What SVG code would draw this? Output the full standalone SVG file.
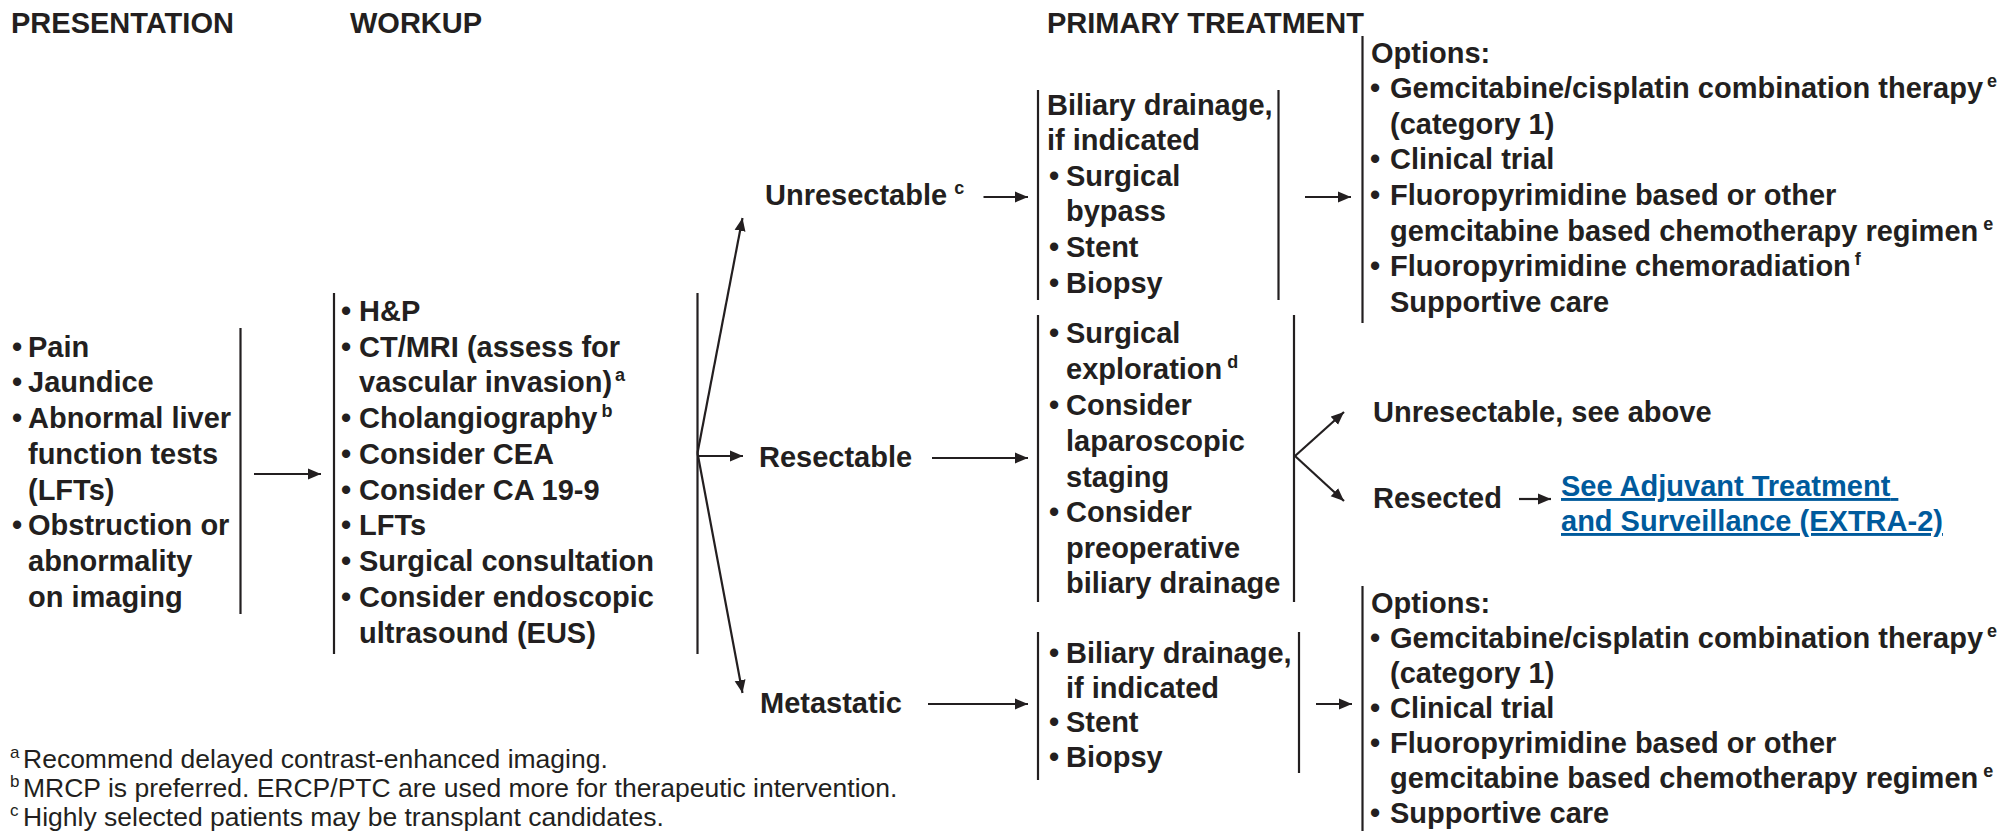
<svg xmlns="http://www.w3.org/2000/svg" width="2012" height="831" viewBox="0 0 2012 831">
<style>
text { font-family: "Liberation Sans", Arial, Helvetica, sans-serif; fill: #231f20; }
.t { font-weight: bold; font-size: 29px; }
.sup { font-size: 18px; }
.fn { font-weight: normal; font-size: 26.5px; }
.fsup { font-size: 17px; }
.bar { stroke: #231f20; stroke-width: 2.2; fill: none; }
.conn { stroke: #231f20; stroke-width: 2.2; fill: none; marker-end: url(#ah); }
.link { fill: #005a9c; text-decoration: underline; }
</style>
<defs>
<marker id="ah" markerUnits="userSpaceOnUse" markerWidth="14" markerHeight="12" refX="13" refY="6" orient="auto">
<path d="M0,0.5 L13,6 L0,11.5 z" fill="#231f20"/>
</marker>
</defs>
<rect width="2012" height="831" fill="#ffffff"/>

<g id="headers">
<text class="t" x="11" y="32.5">PRESENTATION</text>
<text class="t" x="350" y="32.5">WORKUP</text>
<text class="t" x="1047" y="32.5">PRIMARY TREATMENT</text>
</g>

<g id="presentation">
<line class="bar" x1="240.5" y1="328" x2="240.5" y2="614"/>
<text class="t">
<tspan x="12" y="356.5">•</tspan><tspan x="28" y="356.5">Pain</tspan>
<tspan x="12" y="392.3">•</tspan><tspan x="28" y="392.3">Jaundice</tspan>
<tspan x="12" y="428">•</tspan><tspan x="28" y="428">Abnormal liver</tspan>
<tspan x="28" y="463.8">function tests</tspan>
<tspan x="28" y="499.5">(LFTs)</tspan>
<tspan x="12" y="535.3">•</tspan><tspan x="28" y="535.3">Obstruction or</tspan>
<tspan x="28" y="571">abnormality</tspan>
<tspan x="28" y="606.8">on imaging</tspan>
</text>
</g>

<g id="workup">
<line class="bar" x1="334" y1="293" x2="334" y2="654"/>
<line class="bar" x1="697.5" y1="293" x2="697.5" y2="654"/>
<text class="t">
<tspan x="341" y="320.7">•</tspan><tspan x="359" y="320.7">H&amp;P</tspan>
<tspan x="341" y="356.5">•</tspan><tspan x="359" y="356.5">CT/MRI (assess for</tspan>
<tspan x="359" y="392.3">vascular invasion)</tspan><tspan class="sup" dx="3" dy="-11">a</tspan>
<tspan x="341" y="428">•</tspan><tspan x="359" y="428">Cholangiography</tspan><tspan class="sup" dx="4" dy="-11">b</tspan>
<tspan x="341" y="463.8">•</tspan><tspan x="359" y="463.8">Consider CEA</tspan>
<tspan x="341" y="499.5">•</tspan><tspan x="359" y="499.5">Consider CA 19-9</tspan>
<tspan x="341" y="535.3">•</tspan><tspan x="359" y="535.3">LFTs</tspan>
<tspan x="341" y="571">•</tspan><tspan x="359" y="571">Surgical consultation</tspan>
<tspan x="341" y="606.8">•</tspan><tspan x="359" y="606.8">Consider endoscopic</tspan>
<tspan x="359" y="642.5">ultrasound (EUS)</tspan>
</text>
</g>

<g id="unresectable">
<text class="t"><tspan x="765" y="205">Unresectable</tspan><tspan class="sup" dx="7" dy="-11">c</tspan></text>
</g>
<g id="resectable">
<text class="t" x="759" y="467">Resectable</text>
</g>
<g id="metastatic">
<text class="t" x="760" y="713">Metastatic</text>
</g>

<g id="unresectable-treatment">
<line class="bar" x1="1038" y1="90" x2="1038" y2="300"/>
<line class="bar" x1="1278.5" y1="90" x2="1278.5" y2="300"/>
<text class="t">
<tspan x="1047" y="114.5">Biliary drainage,</tspan>
<tspan x="1047" y="150">if indicated</tspan>
<tspan x="1049" y="185.7">•</tspan><tspan x="1066" y="185.7">Surgical</tspan>
<tspan x="1066" y="221.4">bypass</tspan>
<tspan x="1049" y="257">•</tspan><tspan x="1066" y="257">Stent</tspan>
<tspan x="1049" y="292.8">•</tspan><tspan x="1066" y="292.8">Biopsy</tspan>
</text>
</g>

<g id="resectable-treatment">
<line class="bar" x1="1038" y1="315" x2="1038" y2="602"/>
<line class="bar" x1="1294" y1="315" x2="1294" y2="602"/>
<text class="t">
<tspan x="1049" y="343">•</tspan><tspan x="1066" y="343">Surgical</tspan>
<tspan x="1066" y="379">exploration</tspan><tspan class="sup" dx="5" dy="-11">d</tspan>
<tspan x="1049" y="415">•</tspan><tspan x="1066" y="415">Consider</tspan>
<tspan x="1066" y="450.5">laparoscopic</tspan>
<tspan x="1066" y="486.5">staging</tspan>
<tspan x="1049" y="522">•</tspan><tspan x="1066" y="522">Consider</tspan>
<tspan x="1066" y="557.5">preoperative</tspan>
<tspan x="1066" y="593">biliary drainage</tspan>
</text>
</g>

<g id="metastatic-treatment">
<line class="bar" x1="1038" y1="632" x2="1038" y2="780"/>
<line class="bar" x1="1299" y1="632" x2="1299" y2="773"/>
<text class="t">
<tspan x="1049" y="663">•</tspan><tspan x="1066" y="663">Biliary drainage,</tspan>
<tspan x="1066" y="697.5">if indicated</tspan>
<tspan x="1049" y="732">•</tspan><tspan x="1066" y="732">Stent</tspan>
<tspan x="1049" y="767">•</tspan><tspan x="1066" y="767">Biopsy</tspan>
</text>
</g>

<g id="unresectable-options">
<line class="bar" x1="1362.5" y1="36" x2="1362.5" y2="323"/>
<text class="t">
<tspan x="1371" y="62.5">Options:</tspan>
<tspan x="1370" y="98.1">•</tspan><tspan x="1390" y="98.1">Gemcitabine/cisplatin combination therapy</tspan><tspan class="sup" dx="4" dy="-11">e</tspan>
<tspan x="1390" y="133.7">(category 1)</tspan>
<tspan x="1370" y="169.3">•</tspan><tspan x="1390" y="169.3">Clinical trial</tspan>
<tspan x="1370" y="204.9">•</tspan><tspan x="1390" y="204.9">Fluoropyrimidine based or other</tspan>
<tspan x="1390" y="240.5">gemcitabine based chemotherapy regimen</tspan><tspan class="sup" dx="5" dy="-11">e</tspan>
<tspan x="1370" y="276.1">•</tspan><tspan x="1390" y="276.1">Fluoropyrimidine chemoradiation</tspan><tspan class="sup" dx="4" dy="-11">f</tspan>
<tspan x="1390" y="311.7">Supportive care</tspan>
</text>
</g>

<g id="unresectable-see-above">
<text class="t" x="1373" y="422">Unresectable, see above</text>
</g>
<g id="resected">
<text class="t" x="1373" y="508">Resected</text>
</g>
<g id="adjuvant-link">
<text class="t link">
<tspan x="1561" y="496">See Adjuvant Treatment</tspan>
<tspan x="1561" y="531">and Surveillance (EXTRA-2)</tspan>
</text>
</g>

<g id="metastatic-options">
<line class="bar" x1="1362.5" y1="586" x2="1362.5" y2="831"/>
<text class="t">
<tspan x="1371" y="613">Options:</tspan>
<tspan x="1370" y="648">•</tspan><tspan x="1390" y="648">Gemcitabine/cisplatin combination therapy</tspan><tspan class="sup" dx="4" dy="-11">e</tspan>
<tspan x="1390" y="683">(category 1)</tspan>
<tspan x="1370" y="718">•</tspan><tspan x="1390" y="718">Clinical trial</tspan>
<tspan x="1370" y="753">•</tspan><tspan x="1390" y="753">Fluoropyrimidine based or other</tspan>
<tspan x="1390" y="788">gemcitabine based chemotherapy regimen</tspan><tspan class="sup" dx="5" dy="-11">e</tspan>
<tspan x="1370" y="823">•</tspan><tspan x="1390" y="823">Supportive care</tspan>
</text>
</g>

<g id="footnotes">
<text class="fn"><tspan class="fsup" x="10" y="758">a</tspan><tspan x="23" y="768">Recommend delayed contrast-enhanced imaging.</tspan></text>
<text class="fn"><tspan class="fsup" x="10" y="787">b</tspan><tspan x="23" y="797">MRCP is preferred. ERCP/PTC are used more for therapeutic intervention.</tspan></text>
<text class="fn"><tspan class="fsup" x="10" y="816">c</tspan><tspan x="23" y="826">Highly selected patients may be transplant candidates.</tspan></text>
</g>

<g id="connectors">
<line class="conn" x1="254" y1="474" x2="321" y2="474"/>
<line class="conn" x1="697.5" y1="453" x2="742.5" y2="218"/>
<line class="conn" x1="697.5" y1="456" x2="743" y2="456"/>
<line class="conn" x1="697.5" y1="453" x2="742.5" y2="693"/>
<line class="conn" x1="983.5" y1="197" x2="1028" y2="197"/>
<line class="conn" x1="932" y1="458" x2="1028" y2="458"/>
<line class="conn" x1="928" y1="704" x2="1028" y2="704"/>
<line class="conn" x1="1305" y1="197" x2="1351" y2="197"/>
<line class="conn" x1="1295" y1="456" x2="1344" y2="412"/>
<line class="conn" x1="1295" y1="456" x2="1344" y2="501"/>
<line class="conn" x1="1519" y1="499" x2="1551" y2="499"/>
<line class="conn" x1="1316" y1="704" x2="1352" y2="704"/>
</g>
</svg>
